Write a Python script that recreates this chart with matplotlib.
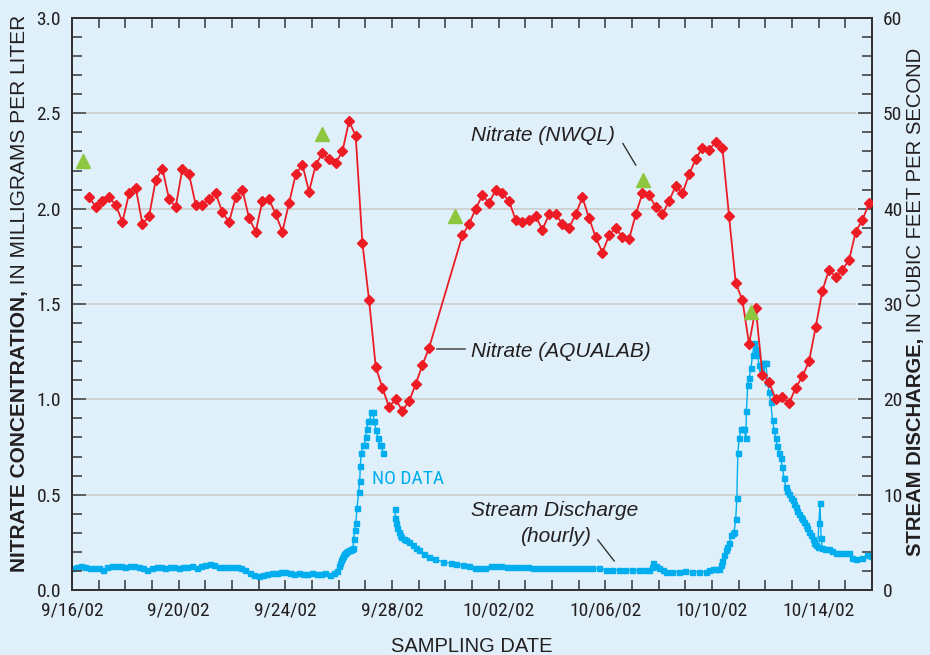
import matplotlib
matplotlib.use("Agg")
import matplotlib.pyplot as plt
from matplotlib.ticker import MultipleLocator, FixedLocator
from matplotlib import font_manager
from matplotlib.font_manager import FontProperties

# ---------------- data ----------------
# Nitrate (AQUALAB): days since 9/16/02 00:00, mg/L
aqualab_day = [0.64, 0.89, 1.14, 1.39, 1.64, 1.89, 2.14, 2.39, 2.64, 2.89,
               3.14, 3.39, 3.64, 3.89, 4.14, 4.39, 4.64, 4.89, 5.14, 5.39,
               5.64, 5.89, 6.14, 6.39, 6.64, 6.89, 7.14, 7.39, 7.64, 7.89,
               8.14, 8.39, 8.64, 8.89, 9.14, 9.39, 9.64, 9.89, 10.14, 10.39,
               10.64, 10.89, 11.14, 11.39, 11.64, 11.89, 12.14, 12.39, 12.64, 12.89,
               13.14, 13.39, 14.64, 14.89, 15.14, 15.39, 15.64, 15.89, 16.14, 16.39,
               16.64, 16.89, 17.14, 17.39, 17.64, 17.89, 18.14, 18.39, 18.64, 18.89,
               19.14, 19.39, 19.64, 19.89, 20.14, 20.39, 20.64, 20.89, 21.14, 21.39,
               21.64, 21.89, 22.14, 22.39, 22.64, 22.89, 23.14, 23.39, 23.64, 23.89,
               24.14, 24.39, 24.64, 24.89, 25.14, 25.39, 25.64, 25.89, 26.14, 26.39,
               26.64, 26.89, 27.14, 27.39, 27.64, 27.89, 28.14, 28.39, 28.64, 28.89,
               29.14, 29.39, 29.64, 29.89]
aqualab_mgl = [2.06, 2.01, 2.04, 2.06, 2.02, 1.93, 2.08, 2.11, 1.92, 1.96,
               2.15, 2.21, 2.05, 2.01, 2.21, 2.18, 2.02, 2.02, 2.05, 2.08,
               1.98, 1.93, 2.06, 2.10, 1.95, 1.88, 2.04, 2.05, 1.97, 1.88,
               2.03, 2.18, 2.23, 2.09, 2.23, 2.29, 2.26, 2.24, 2.30, 2.46,
               2.38, 1.82, 1.52, 1.17, 1.06, 0.96, 1.00, 0.94, 0.99, 1.08,
               1.18, 1.27, 1.86, 1.92, 2.00, 2.07, 2.03, 2.10, 2.08, 2.04,
               1.94, 1.93, 1.94, 1.96, 1.89, 1.97, 1.97, 1.92, 1.90, 1.97,
               2.06, 1.95, 1.85, 1.77, 1.86, 1.90, 1.85, 1.84, 1.97, 2.08,
               2.07, 2.01, 1.97, 2.04, 2.12, 2.08, 2.18, 2.26, 2.32, 2.31,
               2.35, 2.32, 1.96, 1.61, 1.52, 1.29, 1.48, 1.13, 1.09, 1.00,
               1.01, 0.98, 1.06, 1.12, 1.20, 1.38, 1.57, 1.68, 1.64, 1.68,
               1.73, 1.88, 1.94, 2.03]

# Nitrate (NWQL) lab samples
nwql_day = [0.42, 9.39, 14.36, 21.40, 25.46]
nwql_mgl = [2.25, 2.39, 1.96, 2.15, 1.46]

# Stream discharge (hourly), first segment up to the data gap
q1_day = [0.00, 0.17, 0.33, 0.50, 0.67, 0.83, 1.00, 1.17, 1.33, 1.50,
          1.67, 1.83, 2.00, 2.17, 2.33, 2.50, 2.67, 2.83, 3.00, 3.17,
          3.33, 3.50, 3.67, 3.83, 4.00, 4.17, 4.33, 4.50, 4.67, 4.83,
          5.00, 5.17, 5.33, 5.50, 5.67, 5.83, 6.00, 6.17, 6.33, 6.50,
          6.67, 6.83, 7.00, 7.17, 7.33, 7.50, 7.67, 7.83, 8.00, 8.17,
          8.33, 8.50, 8.67, 8.83, 9.00, 9.17, 9.33, 9.50, 9.67, 9.83,
          9.92, 10.00, 10.04, 10.08, 10.13, 10.17, 10.21, 10.25, 10.29, 10.33,
          10.38, 10.42, 10.46, 10.50, 10.54, 10.56, 10.60, 10.64, 10.69, 10.75,
          10.79, 10.81, 10.85, 10.91, 10.97, 11.01, 11.06, 11.10, 11.16, 11.22,
          11.29, 11.32, 11.41, 11.47, 11.54, 11.60, 11.66]
q1_cfs = [2.3, 2.4, 2.5, 2.45, 2.3, 2.3, 2.3, 2.1, 2.45, 2.5,
          2.5, 2.5, 2.45, 2.5, 2.5, 2.45, 2.3, 2.15, 2.35, 2.4,
          2.4, 2.35, 2.4, 2.4, 2.35, 2.4, 2.45, 2.55, 2.3, 2.5,
          2.6, 2.75, 2.6, 2.45, 2.4, 2.4, 2.45, 2.4, 2.3, 2.15,
          1.8, 1.6, 1.5, 1.6, 1.7, 1.75, 1.8, 1.9, 1.85, 1.75,
          1.7, 1.75, 1.7, 1.7, 1.75, 1.7, 1.7, 1.75, 1.55, 1.8,
          2.0, 2.5, 2.8, 3.1, 3.4, 3.6, 3.8, 3.9, 4.0, 4.1,
          4.2, 4.2, 4.25, 4.3, 4.4, 5.4, 6.3, 7.0, 8.6, 10.3,
          11.4, 13.0, 14.4, 15.2, 15.2, 16.1, 16.9, 17.7, 17.7, 18.7,
          18.7, 17.7, 16.8, 15.9, 15.2, 15.2, 14.4]

# Stream discharge (hourly), second segment after the data gap
q2_day = [12.10, 12.13, 12.16, 12.20, 12.25, 12.30, 12.35, 12.45, 12.54, 12.65,
          12.78, 12.90, 13.03, 13.20, 13.40, 13.60, 13.90, 14.20, 14.40, 14.66,
          14.90, 15.10, 15.28, 15.50, 15.70, 15.90, 16.10, 16.30, 16.50, 16.70,
          16.90, 17.10, 17.28, 17.50, 17.70, 17.90, 18.10, 18.30, 18.50, 18.70,
          18.90, 19.10, 19.30, 19.50, 19.78, 20.03, 20.25, 20.50, 20.75, 21.00,
          21.25, 21.50, 21.65, 21.75, 21.80, 21.90, 22.02, 22.15, 22.27, 22.50,
          22.75, 23.00, 23.25, 23.50, 23.77, 23.90, 24.02, 24.15, 24.27, 24.33,
          24.39, 24.45, 24.52, 24.58, 24.65, 24.71, 24.77, 24.83, 24.89, 24.93,
          24.97, 25.02, 25.08, 25.14, 25.21, 25.27, 25.29, 25.34, 25.39, 25.46,
          25.52, 25.58, 25.64, 25.70, 25.77, 25.83, 25.90, 25.96, 26.02, 26.08,
          26.14, 26.20, 26.27, 26.33, 26.39, 26.45, 26.52, 26.58, 26.64, 26.70,
          26.77, 26.83, 26.89, 26.95, 27.02, 27.08, 27.14, 27.20, 27.27, 27.33,
          27.39, 27.45, 27.52, 27.58, 27.64, 27.70, 27.77, 27.83, 27.90, 27.96,
          28.01, 28.05, 28.09, 28.14, 28.25, 28.39, 28.50, 28.64, 28.80, 29.00,
          29.14, 29.26, 29.40, 29.64, 29.82, 29.96]
q2_cfs = [8.5, 7.6, 7.0, 6.5, 6.1, 5.8, 5.6, 5.4, 5.25, 5.0,
          4.7, 4.4, 4.2, 3.8, 3.5, 3.2, 2.97, 2.8, 2.7, 2.62,
          2.5, 2.35, 2.27, 2.35, 2.5, 2.55, 2.5, 2.45, 2.45, 2.45,
          2.45, 2.4, 2.27, 2.27, 2.3, 2.27, 2.27, 2.3, 2.27, 2.27,
          2.3, 2.27, 2.27, 2.3, 2.27, 2.1, 2.1, 2.15, 2.1, 2.1,
          2.1, 2.1, 2.1, 2.4, 2.8, 2.5, 2.27, 2.05, 1.92, 1.92,
          1.92, 1.95, 1.92, 1.92, 1.92, 2.1, 2.17, 2.2, 2.2, 2.6,
          3.0, 3.67, 4.2, 4.55, 4.9, 5.77, 6.0, 6.1, 7.4, 9.6,
          14.4, 15.9, 16.85, 16.85, 16.85, 15.9, 18.8, 21.5, 22.2, 23.25,
          24.65, 25.9, 25.25, 24.65, 23.6, 23.25, 23.8, 23.8, 23.8, 21.85,
          20.8, 19.75, 17.8, 16.8, 15.9, 15.1, 14.4, 13.8, 12.9, 11.7,
          10.8, 10.4, 10.1, 9.7, 9.4, 9.0, 8.7, 8.3, 8.0, 7.7,
          7.4, 7.1, 6.8, 6.5, 6.1, 5.8, 5.4, 4.9, 4.7, 4.55,
          7.0, 9.1, 5.45, 4.37, 4.3, 4.27, 4.1, 3.92, 3.9, 3.85,
          3.85, 3.32, 3.3, 3.32, 3.67, 3.6]

xtick_days = [0, 4, 8, 12, 16, 20, 24, 28]
xtick_labels = ["9/16/02", "9/20/02", "9/24/02", "9/28/02",
                "10/02/02", "10/06/02", "10/10/02", "10/14/02"]

# ---------------- style ----------------
RED = "#ED1C24"
BLUE = "#00AEEF"
GREEN = "#8DC63F"
BG = "#DFF0FB"
INK = "#231F20"

SANS = "Liberation Sans"
plt.rcParams["font.family"] = [SANS, "DejaVu Sans"]


def find_narrow():
    prefs = ["Liberation Sans Narrow", "Roboto Condensed", "Open Sans Condensed",
             "Noto Sans Condensed", "DejaVu Sans Condensed"]
    fl = font_manager.fontManager.ttflist
    def regular(f):
        return f.style == "normal" and str(f.weight) in ("400", "normal", "regular", "book")
    for p in prefs:
        for f in fl:
            if f.name == p and regular(f):
                return FontProperties(fname=f.fname)
    for f in fl:
        if regular(f) and ("condensed" in str(f.stretch).lower() or "Narrow" in f.name
                           or "Condensed" in f.name or "Condensed" in f.fname):
            if any(k in f.name for k in ("Liberation", "Roboto", "Open Sans", "Noto Sans", "DejaVu Sans", "Lato", "Inter")):
                if "Mono" not in f.name and "CJK" not in f.name:
                    return FontProperties(fname=f.fname)
    return FontProperties(family=SANS)


NARROW_FP = find_narrow()

fig = plt.figure(figsize=(9.3, 6.55), dpi=100, facecolor=BG)
W, H = 930, 655
ax = fig.add_axes([72 / W, (H - 590) / H, 800 / W, 572 / H])
ax2 = ax.twinx()

# discharge on right axis
ax2.plot(q1_day, q1_cfs, color=BLUE, lw=1.0, marker="s", ms=3.6, mec=BLUE, mfc=BLUE, zorder=2)
ax2.plot(q2_day, q2_cfs, color=BLUE, lw=1.0, marker="s", ms=3.6, mec=BLUE, mfc=BLUE, zorder=2)

# nitrate on left axis (draw above)
ax.set_zorder(ax2.get_zorder() + 1)
ax.patch.set_visible(False)
ax2.set_facecolor("white")

# gridlines (behind everything, on the back axes)
for gy in [10, 20, 30, 40, 50]:
    ax2.axhline(gy, xmin=0.018, xmax=0.979, color="#CCCCCC", lw=1.2, zorder=0)

ax.plot(aqualab_day, aqualab_mgl, color=RED, lw=1.3, marker="D", ms=5.6, mec=RED, mfc=RED, zorder=3)
ax.plot(nwql_day, nwql_mgl, ls="none", marker="^", ms=10, color=GREEN, mec=GREEN, zorder=4)

ax.set_xlim(0, 30)
ax.set_ylim(0, 3.0)
ax2.set_ylim(0, 60)

ax.xaxis.set_major_locator(FixedLocator(xtick_days))
ax.set_xticklabels(xtick_labels)
ax.xaxis.set_minor_locator(MultipleLocator(1))
ax.yaxis.set_major_locator(MultipleLocator(0.5))
ax.yaxis.set_minor_locator(MultipleLocator(0.1))
ax.set_yticklabels([f"{v:.1f}" for v in ax.get_yticks()])
ax2.yaxis.set_major_locator(MultipleLocator(10))
ax2.yaxis.set_minor_locator(MultipleLocator(2))

for lab in ax.get_xticklabels() + ax.get_yticklabels() + ax2.get_yticklabels():
    lab.set_fontproperties(NARROW_FP)
    lab.set_fontsize(14)
    lab.set_color(INK)

ax.tick_params(axis="x", which="both", direction="in", top=True, bottom=True,
               length=7, width=1.2, color="#444444", pad=8)
ax.tick_params(axis="y", which="major", direction="in", length=10, width=1.2,
               color="#444444", pad=8, left=True, right=False)
ax.tick_params(axis="y", which="minor", direction="in", length=7, width=1.2,
               color="#444444", left=True, right=False)
ax2.tick_params(axis="y", which="major", direction="in", length=10, width=1.2,
                color="#444444", pad=8)
ax2.tick_params(axis="y", which="minor", direction="in", length=7, width=1.2,
                color="#444444")
ax2.tick_params(axis="x", which="both", top=False, bottom=False)
for a in (ax, ax2):
    for s in a.spines.values():
        s.set_color("#333333")
        s.set_linewidth(1.4)

# annotations
ann = dict(fontsize=15, style="italic", color=INK, fontfamily=SANS)
ax.text(14.98, 2.385, "Nitrate (NWQL)", ha="left", va="center", **ann)
ax.annotate("", xy=(21.2, 2.215), xytext=(20.6, 2.355),
            arrowprops=dict(arrowstyle="-", color="#333333", lw=1.0))
ax.text(14.98, 1.25, "Nitrate (AQUALAB)", ha="left", va="center", **ann)
ax.plot([13.7, 14.75], [1.262, 1.262], color="#555555", lw=1.2)
ax2.text(14.98, 8.35, "Stream Discharge", ha="left", va="center", **ann)
ax2.text(16.8, 5.6, "(hourly)", ha="left", va="center", **ann)
ax2.annotate("", xy=(20.4, 2.8), xytext=(19.65, 5.5),
             arrowprops=dict(arrowstyle="-", color="#333333", lw=1.0))
nd = ax2.text(11.25, 11.6, "NO DATA", ha="left", va="center", color=BLUE)
nd.set_fontproperties(NARROW_FP)
nd.set_fontsize(14)

# axis labels
fig.text(472 / W, 1 - 646 / H, "SAMPLING DATE", ha="center", va="center",
         fontsize=14.5, color=INK, fontfamily=SANS)

fig.canvas.draw()
renderer = fig.canvas.get_renderer()


def vlabel(x_px, yc_px, parts, size):
    objs = []
    total = 0.0
    for s, w in parts:
        t = fig.text(0, 0, s, rotation=90, fontweight=w, fontsize=size,
                     color=INK, fontfamily=SANS, ha="center", va="bottom")
        h = t.get_window_extent(renderer).height
        objs.append((t, h))
        total += h
    y = (H - yc_px) - total / 2.0
    for t, h in objs:
        t.set_position((x_px / W, y / H))
        y += h


vlabel(20, 293, [("NITRATE CONCENTRATION,", "bold"), (" IN MILLIGRAMS PER LITER", "normal")], 15)
vlabel(915, 302, [("STREAM DISCHARGE,", "bold"), (" IN CUBIC FEET PER SECOND", "normal")], 14.6)

fig.savefig("out.png", dpi=100, facecolor=BG)
